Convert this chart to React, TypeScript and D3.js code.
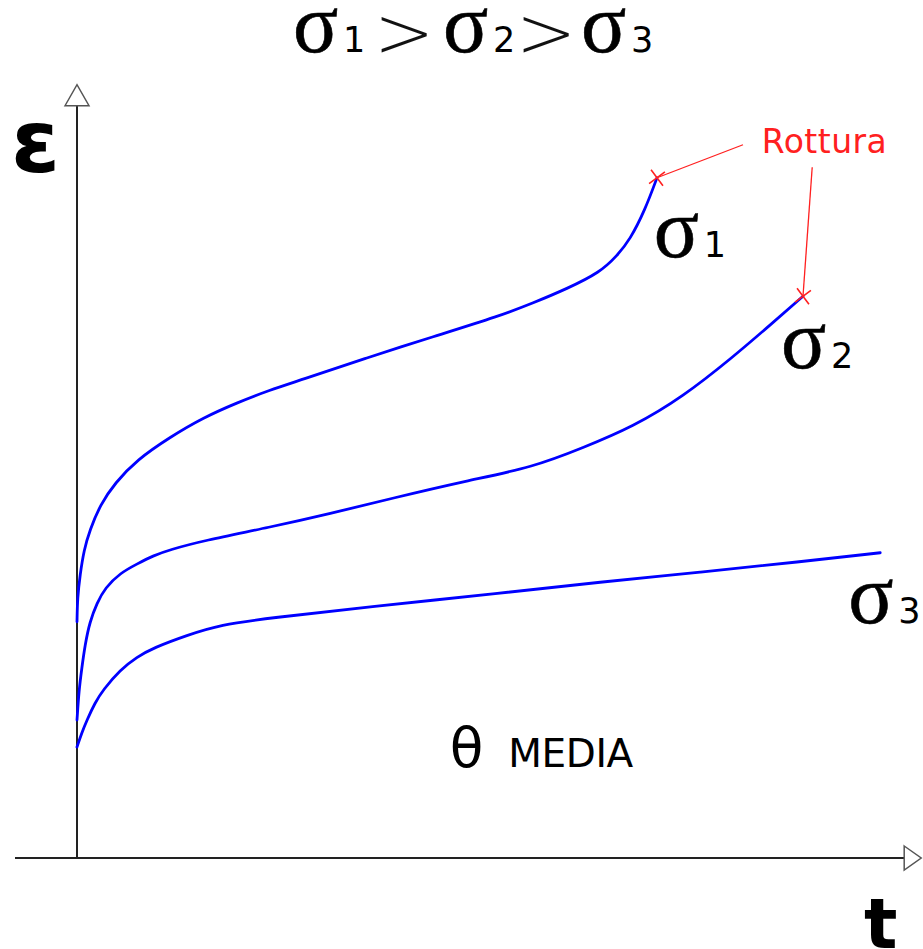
import React from "react";
import * as d3 from "d3";

// Data (t, ε) in arbitrary units
const sigma1T = [0, 0.06, 0.375, 0.875, 1.6, 2.9, 4.75, 7.5, 11.6, 15.75, 20, 24.1, 27.9, 36.25, 44.5, 52.9, 57, 61.25, 65.4, 67.5, 69.1, 71, 72.5];
const sigma1E = [31.5, 34.7, 37.7, 41.1, 43.7, 47.1, 50.0, 53.1, 56.1, 58.7, 60.7, 62.4, 63.7, 66.7, 69.5, 72.3, 74, 75.9, 78.1, 80.3, 82.4, 86.4, 90.7];
const sigma2T = [0, 0.25, 0.6, 1, 1.6, 2.5, 3.5, 5.4, 7.5, 9.5, 11.6, 15.75, 24.1, 31.6, 39.5, 48.75, 57, 63.25, 69.5, 75.75, 82, 86.25, 90.75];
const sigma2E = [18.4, 22.4, 25.3, 28.4, 31.5, 34, 36, 38, 39.2, 40.3, 41.1, 42.3, 44.1, 45.9, 48, 50.3, 52.1, 54.7, 57.5, 61.5, 66.8, 70.7, 74.9];
const sigma3T = [0, 0.6, 1.25, 2.25, 3.25, 5.4, 7.5, 9.5, 13.75, 17.9, 24.1, 36.6, 52.9, 65.4, 77.9, 90.4, 100.4];
const sigma3E = [14.8, 16.7, 18.4, 20.7, 22.4, 25.1, 26.8, 28, 29.7, 31.1, 32, 33.5, 35.3, 36.8, 38.1, 39.5, 40.7];

const seriesNames = ["1", "2", "3"];
// rupture points (t, ε) and the annotation anchor points
const ruptureT = [72.5, 90.75];
const ruptureE = [90.7, 74.9];
const leaderT = [83.25, 91.9];
const leaderE = [95.1, 92.1];
const ruptureLabel = "Rottura";
const tempLabel = "MEDIA";
const titleParts = ["1", "2", "3"];

// label anchors in data units
const seriesLabelT = [72.6, 88.5, 96.9];
const seriesLabelE = [80.1, 65.3, 31.3];

const W = 923;
const H = 949;

const xS = d3.scaleLinear().domain([0, 100]).range([77, 877]);
const yS = d3.scaleLinear().domain([0, 100]).range([858, 108]);

const xAxisExtent = [-7.75, 103.4];
const yAxisExtent = [0, 100.3];

const BLUE = "#0000ff";
const RED = "#ff2020";

function zip(ts: number[], es: number[]) {
  return ts.map((t, i) => [t, es[i]] as [number, number]);
}

const Sigma: React.FC<{ x: number; y: number; d: string }> = ({ x, y, d }) => (
  <g>
    <text x={x - 4} y={y} fontFamily="Liberation Serif" fontSize={84} fill="#000" stroke="#000" strokeWidth={0.6}>
      σ
    </text>
    <text x={x + 46} y={y} fontFamily="DejaVu Sans" fontSize={35} fill="#000">
      {d}
    </text>
  </g>
);

export default function App() {
  const line = d3
    .line<[number, number]>()
    .x((d) => xS(d[0]))
    .y((d) => yS(d[1]))
    .curve(d3.curveBasis);

  const curves = [zip(sigma1T, sigma1E), zip(sigma2T, sigma2E), zip(sigma3T, sigma3E)];
  const cross = d3.symbol(d3.symbolTimes, 130)();

  const x0 = xS(0);
  const y0 = yS(0);
  const xEnd = xS(xAxisExtent[1]);
  const yEnd = yS(yAxisExtent[1]);

  return (
    <svg
      width={W}
      height={H}
      style={{ position: "absolute", left: 0, top: 0, background: "#fff" }}
    >
      <rect width={W} height={H} fill="#fff" />
      {/* title */}
      <Sigma x={297} y={52} d={titleParts[0]} />
      <text x={374} y={57} fontFamily="DejaVu Sans" fontWeight={200} fontSize={72} fill="#111">
        &gt;
      </text>
      <Sigma x={447} y={52} d={titleParts[1]} />
      <text x={516} y={57} fontFamily="DejaVu Sans" fontWeight={200} fontSize={72} fill="#111">
        &gt;
      </text>
      <Sigma x={585} y={52} d={titleParts[2]} />

      {/* axes */}
      <line x1={xS(xAxisExtent[0])} x2={xEnd} y1={y0} y2={y0} stroke="#222" strokeWidth={2} />
      <line x1={x0} x2={x0} y1={y0} y2={yEnd} stroke="#222" strokeWidth={2} />
      <path
        d={`M${xEnd},${y0 - 12}L${xEnd + 17},${y0}L${xEnd},${y0 + 12}Z`}
        fill="#fff"
        stroke="#555"
        strokeWidth={1.5}
      />
      <path
        d={`M${x0 - 12},${yEnd}L${x0},${yEnd - 21}L${x0 + 12},${yEnd}Z`}
        fill="#fff"
        stroke="#555"
        strokeWidth={1.5}
      />
      <text x={11} y={172} fontFamily="DejaVu Sans" fontWeight="bold" fontSize={88} fill="#000">
        ε
      </text>
      <text x={864} y={948} fontFamily="DejaVu Sans" fontWeight="bold" fontSize={70} fill="#000">
        t
      </text>

      {/* curves */}
      {curves.map((c, i) => (
        <path key={i} d={line(c) || ""} fill="none" stroke={BLUE} strokeWidth={2.8} strokeLinecap="round" />
      ))}

      {/* series labels */}
      {seriesNames.map((n, i) => (
        <Sigma key={n} x={xS(seriesLabelT[i])} y={yS(seriesLabelE[i])} d={n} />
      ))}

      {/* rupture annotation */}
      {ruptureT.map((t, i) => (
        <g key={i}>
          <line
            x1={xS(t)}
            y1={yS(ruptureE[i])}
            x2={xS(leaderT[i])}
            y2={yS(leaderE[i])}
            stroke={RED}
            strokeWidth={1.3}
          />
          <path
            d={cross || ""}
            transform={`translate(${xS(t)},${yS(ruptureE[i])}) rotate(8)`}
            fill="none"
            stroke={RED}
            strokeWidth={1.6}
          />
        </g>
      ))}
      <text x={xS(85.6)} y={yS(94)} fontFamily="DejaVu Sans" fontSize={33} fill={RED} textLength={125}>
        {ruptureLabel}
      </text>

      {/* temperature note */}
      <text x={xS(46.6)} y={yS(12.1)} fontFamily="DejaVu Sans" fontSize={55} fill="#000">
        θ
      </text>
      <text x={xS(53.9)} y={yS(12.1)} fontFamily="DejaVu Sans" fontSize={39} fill="#000" textLength={125}>
        {tempLabel}
      </text>
    </svg>
  );
}
